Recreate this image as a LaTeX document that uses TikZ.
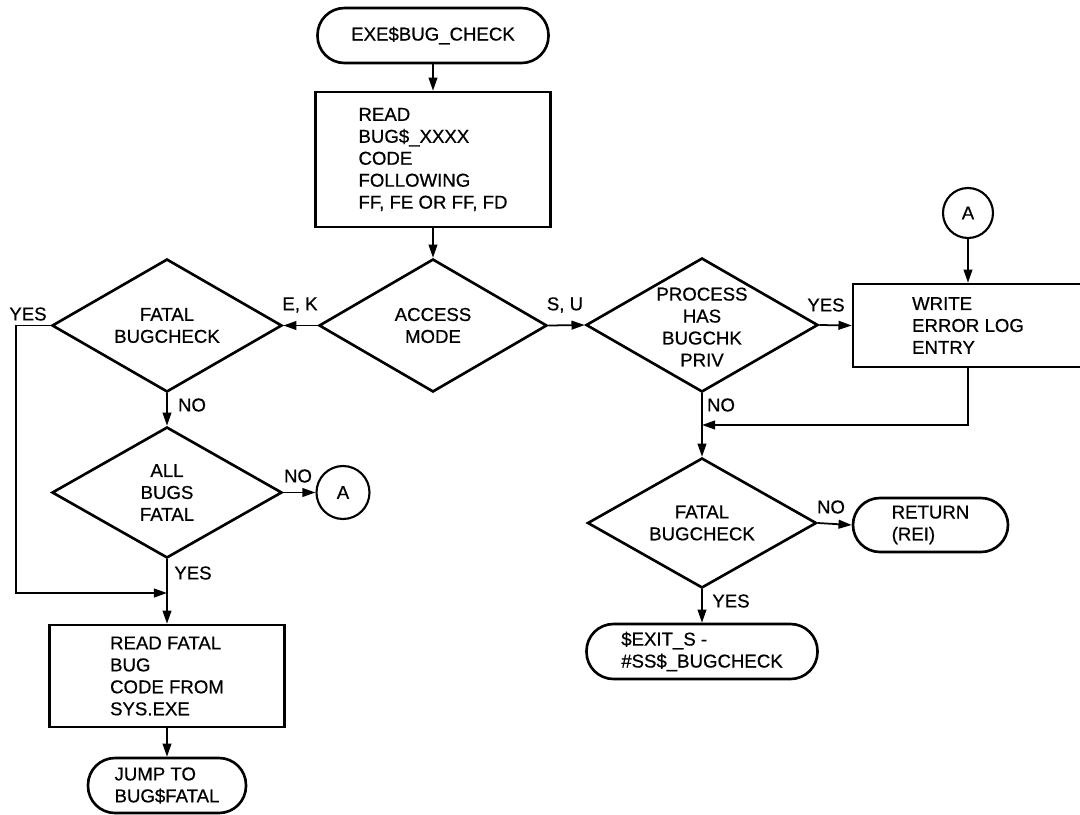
\documentclass[tikz,border=0pt]{standalone}
\usepackage{fontspec}
\setmainfont{Liberation Sans}[FakeBold=0.6]
\usetikzlibrary{shapes.geometric,arrows.meta}
\newdimen\upx \upx=0.02cm

\begin{document}
\begin{tikzpicture}[x=0.02cm,y=-0.02cm,
  font=\fontsize{10.6}{12.5}\selectfont,
  base/.style={draw, line width=1.5pt, inner sep=0pt},
  terminal/.style={base, rectangle, rounded corners=27\upx, minimum height=55\upx, align=left},
  procbox/.style={base, rectangle, align=left},
  decision/.style={base, diamond},
  connector/.style={base, circle, line width=1.2pt},
  flow/.style={line width=1pt, -{Triangle[length=7.5pt,width=5pt]}},
  lbl/.style={inner sep=0pt}]

\useasboundingbox (0,0) rectangle (1080,815);
\clip (0,0) rectangle (1080,815);

% main column
\node[terminal, minimum width=231\upx] (start) at (433,35.5) {EXE\$BUG\_CHECK};
\node[procbox, minimum width=235\upx, minimum height=135\upx] (read) at (433,159.5)
  {READ\\BUG\$\_XXXX\\CODE\\FOLLOWING\\FF, FE OR FF, FD};
\node[decision, minimum width=228\upx, minimum height=133\upx,
  label={[align=center]center:ACCESS\\MODE}] (acc) at (433,325.5) {};

% kernel / executive branch
\node[decision, minimum width=230\upx, minimum height=133\upx,
  label={[align=center]center:FATAL\\BUGCHECK}] (fat1) at (167,325.5) {};
\node[decision, minimum width=230\upx, minimum height=131\upx,
  label={[align=center]center:ALL\\BUGS\\FATAL}] (all) at (167,492.5) {};
\node[connector, minimum size=53\upx] (ca1) at (343,492.5) {A};
\node[procbox, minimum width=235\upx, minimum height=102\upx] (rfat) at (167,676)
  {READ FATAL\\BUG\\CODE FROM\\SYS.EXE};
\node[terminal, minimum width=158\upx] (jump) at (167,785.5) {JUMP TO\\BUG\$FATAL};

% supervisor / user branch
\node[decision, minimum width=232\upx, minimum height=134\upx,
  label={[align=center,yshift=-2\upx]center:PROCESS\\HAS\\BUGCHK\\PRIV}] (proc) at (702,325) {};
\node[connector, minimum size=50\upx] (ca2) at (968,213) {A};
\node[procbox, minimum width=230\upx, minimum height=83\upx] (write) at (968,325.5)
  {WRITE\\ERROR LOG\\ENTRY};
\node[decision, minimum width=229\upx, minimum height=130\upx,
  label={[align=center]center:FATAL\\BUGCHECK}] (fat2) at (702,523) {};
\node[terminal, minimum width=155\upx, minimum height=54\upx] (ret) at (930.5,525) {RETURN\\(REI)};
\node[terminal, minimum width=231\upx] (exit) at (702,651.5) {\$EXIT\_S -\\\#SS\$\_BUGCHECK};

% junction points
\coordinate (cL) at (16,593);
\coordinate (jn1) at (167,593);
\coordinate (jn2) at (702,425);

% connectors
\draw[flow] (start) -- (read);
\draw[flow] (read) -- (acc);
\draw[flow] (acc.west) -- (fat1.east);
\draw[flow] (acc.east) -- (proc.west);
\draw[flow] (fat1.south) -- (all.north);
\draw[flow] (all.east) -- (ca1.west);
\draw[flow] (all.south) -- (rfat.north);
\draw[flow] (fat1.west) -| (cL) -- (jn1);
\draw[flow] (rfat.south) -- (jump.north);
\draw[flow] (proc.east) -- (write.west);
\draw[flow] (ca2.south) -- (write.north);
\draw[flow] (write.south) |- (jn2);
\draw[flow] (proc.south) -- (fat2.north);
\draw[flow] (fat2.east) -- (ret.west);
\draw[flow] (fat2.south) -- (exit.north);

% branch labels
\node[lbl] (tEK)  at (300,305) {E, K};
\node[lbl] (tSU)  at (565,305) {S, U};
\node[lbl] (tY1)  at (28,314) {YES};
\node[lbl] (tN1)  at (192,405) {NO};
\node[lbl] (tN2)  at (298,476) {NO};
\node[lbl] (tY2)  at (193,573) {YES};
\node[lbl] (tY3)  at (826,305) {YES};
\node[lbl] (tN3)  at (721,405) {NO};
\node[lbl] (tN4)  at (831,507) {NO};
\node[lbl] (tY4)  at (731,601) {YES};
\end{tikzpicture}
\end{document}
